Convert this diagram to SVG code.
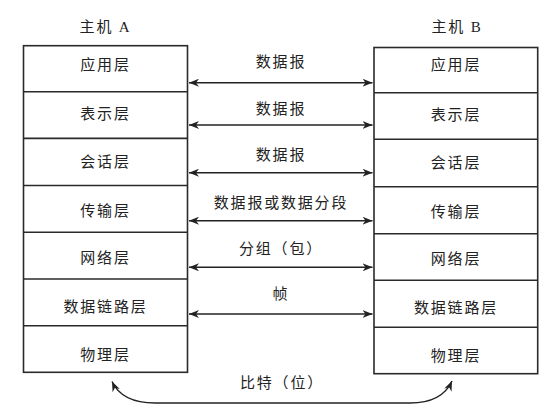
<svg xmlns="http://www.w3.org/2000/svg" width="556" height="416" viewBox="0 0 556 416">
<style>
.box{fill:#fff;stroke:#2a2a2a;stroke-width:1.6}
.div{stroke:#2a2a2a;stroke-width:1.6}
.t{font-family:"Liberation Serif","Noto Sans CJK SC",serif;font-size:15px;fill:#222;text-anchor:middle;dominant-baseline:central;letter-spacing:1.8px}
.c{fill:none;stroke:#222;stroke-width:1.4}
</style>
<defs>
<marker id="ah" viewBox="0 0 10 8" refX="10" refY="4" markerWidth="10" markerHeight="8" markerUnits="userSpaceOnUse" orient="auto-start-reverse">
<path d="M0,0 L10,4 L0,8 L3,4 z" fill="#222"/>
</marker>
</defs>
<rect width="556" height="416" fill="#fff"/>
<g id="hostA">
<text class="t" x="105.5" y="26.5">主机 A</text>
<rect class="box" x="23.5" y="45.7" width="164" height="326.6"/>
<line class="div" x1="23.5" y1="91.7" x2="187.5" y2="91.7"/>
<line class="div" x1="23.5" y1="138.4" x2="187.5" y2="138.4"/>
<line class="div" x1="23.5" y1="185.5" x2="187.5" y2="185.5"/>
<line class="div" x1="23.5" y1="232.3" x2="187.5" y2="232.3"/>
<line class="div" x1="23.5" y1="279" x2="187.5" y2="279"/>
<line class="div" x1="23.5" y1="325.7" x2="187.5" y2="325.7"/>
</g>
<g id="A-app"><text class="t" x="105.5" y="65">应用层</text></g>
<g id="A-pres"><text class="t" x="105.5" y="114">表示层</text></g>
<g id="A-sess"><text class="t" x="105.5" y="161.7">会话层</text></g>
<g id="A-trans"><text class="t" x="105.5" y="210.7">传输层</text></g>
<g id="A-net"><text class="t" x="105.5" y="258.3">网络层</text></g>
<g id="A-link"><text class="t" x="105.5" y="306.7">数据链路层</text></g>
<g id="A-phys"><text class="t" x="105.5" y="355">物理层</text></g>
<g id="hostB">
<text class="t" x="457" y="26.5">主机 B</text>
<rect class="box" x="374" y="47.5" width="163.7" height="326.2"/>
<line class="div" x1="374" y1="92.7" x2="537.7" y2="92.7"/>
<line class="div" x1="374" y1="139.3" x2="537.7" y2="139.3"/>
<line class="div" x1="374" y1="186.7" x2="537.7" y2="186.7"/>
<line class="div" x1="374" y1="233.8" x2="537.7" y2="233.8"/>
<line class="div" x1="374" y1="280.3" x2="537.7" y2="280.3"/>
<line class="div" x1="374" y1="327.2" x2="537.7" y2="327.2"/>
</g>
<g id="B-app"><text class="t" x="456" y="65.3">应用层</text></g>
<g id="B-pres"><text class="t" x="456" y="114.5">表示层</text></g>
<g id="B-sess"><text class="t" x="456" y="162.5">会话层</text></g>
<g id="B-trans"><text class="t" x="456" y="211.5">传输层</text></g>
<g id="B-net"><text class="t" x="456" y="259.3">网络层</text></g>
<g id="B-link"><text class="t" x="456" y="307.7">数据链路层</text></g>
<g id="B-phys"><text class="t" x="456" y="356">物理层</text></g>
<g id="connectors">
<line class="c" x1="189" y1="82.7" x2="372.5" y2="82.7" marker-start="url(#ah)" marker-end="url(#ah)"/>
<line class="c" x1="189" y1="125" x2="372.5" y2="125" marker-start="url(#ah)" marker-end="url(#ah)"/>
<line class="c" x1="189" y1="172.7" x2="372.5" y2="172.7" marker-start="url(#ah)" marker-end="url(#ah)"/>
<line class="c" x1="189" y1="220.7" x2="372.5" y2="220.7" marker-start="url(#ah)" marker-end="url(#ah)"/>
<line class="c" x1="189" y1="267.3" x2="372.5" y2="267.3" marker-start="url(#ah)" marker-end="url(#ah)"/>
<line class="c" x1="189" y1="314" x2="372.5" y2="314" marker-start="url(#ah)" marker-end="url(#ah)"/>
<path class="c" d="M112,381.5 Q122,403 155,403 L410,403 Q442,403 452,381" marker-start="url(#ah)" marker-end="url(#ah)"/>
<text class="t" x="281" y="62">数据报</text>
<text class="t" x="281" y="109">数据报</text>
<text class="t" x="281" y="155">数据报</text>
<text class="t" x="281" y="203.3">数据报或数据分段</text>
<text class="t" x="281" y="249.3">分组（包）</text>
<text class="t" x="281" y="294">帧</text>
<text class="t" x="282" y="383">比特（位）</text>
</g>
</svg>
